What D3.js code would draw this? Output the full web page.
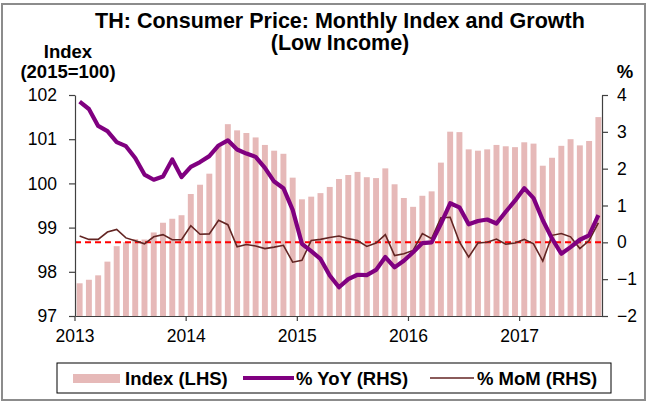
<!DOCTYPE html>
<html>
<head>
<meta charset="utf-8">
<script src="https://cdn.jsdelivr.net/npm/d3@7"></script>
<style>
  body { margin: 0; background: #fff; }
  svg { font-family: "Liberation Sans", Arial, sans-serif; }
</style>
</head>
<body>
<svg id="chart" width="647" height="402"></svg>
<script>
// monthly data, Jan 2013 - Sep 2017
let years = [2013, 2014, 2015, 2016, 2017]
let monthsPerYear = [12, 12, 12, 12, 9]

let indexLHS = [
  97.74, 97.82, 97.92, 98.23, 98.58, 98.67, 98.74, 98.73, 98.89, 99.11, 99.20, 99.28,
  99.76, 99.97, 100.22, 100.84, 101.34, 101.20, 101.14, 101.04, 100.87, 100.74, 100.67, 100.13,
  99.64, 99.70, 99.78, 99.92, 100.10, 100.19, 100.26, 100.14, 100.12, 100.34, 99.98, 99.67,
  99.47, 99.72, 99.82, 100.47, 101.17, 101.16, 100.77, 100.74, 100.77, 100.87, 100.84, 100.82,
  100.93, 100.90, 100.40, 100.58, 100.85, 101.00, 100.86, 100.96, 101.50
]
let yoyRHS = [
  3.82, 3.62, 3.16, 3.02, 2.72, 2.61, 2.29, 1.84, 1.70, 1.79, 2.25, 1.77,
  2.05, 2.18, 2.34, 2.63, 2.77, 2.52, 2.41, 2.32, 2.02, 1.65, 1.47, 0.88,
  -0.04, -0.24, -0.45, -0.90, -1.22, -1.00, -0.88, -0.89, -0.75, -0.40, -0.68, -0.50,
  -0.27, -0.02, 0.00, 0.50, 1.06, 0.95, 0.49, 0.58, 0.62, 0.51, 0.83, 1.13,
  1.47, 1.20, 0.60, 0.10, -0.31, -0.13, 0.07, 0.19, 0.74
]
let momRHS = [
  0.17, 0.08, 0.08, 0.28, 0.35, 0.12, 0.04, -0.04, 0.15, 0.21, 0.07, 0.07,
  0.45, 0.22, 0.23, 0.60, 0.48, -0.12, -0.06, -0.10, -0.17, -0.13, -0.08, -0.54,
  -0.49, 0.05, 0.08, 0.13, 0.17, 0.10, 0.05, -0.11, -0.02, 0.21, -0.36, -0.31,
  -0.22, 0.24, 0.10, 0.67, 0.68, 0.01, -0.40, -0.02, 0.00, 0.09, -0.05, -0.02,
  0.08, -0.04, -0.51, 0.19, 0.24, 0.15, -0.17, 0.05, 0.53
]
let leftTicks = [97, 98, 99, 100, 101, 102]
let rightTicks = [-2, -1, 0, 1, 2, 3, 4]
let legendLabels = ['Index (LHS)', '% YoY (RHS)', '% MoM (RHS)']

// build month keys
let months = []
years.forEach((yr, i) => {
  for (let m = 0; m < monthsPerYear[i]; m++) months.push(yr + '-' + m)
})

let svg = d3.select('#chart')
let plotLeft = 75, plotRight = 603, plotTop = 95, plotBottom = 316

let x = d3.scaleBand().domain(months).range([plotLeft, plotRight]).paddingInner(0.36).paddingOuter(0.18)
let xStep = d3.scaleBand().domain(months).range([plotLeft, plotRight])
let yL = d3.scaleLinear().domain([97, 102]).range([plotBottom, plotTop])
let yR = d3.scaleLinear().domain([-2, 4]).range([plotBottom, plotTop])

// outer frame
svg.append('rect')
  .attr('x', 2).attr('y', 4).attr('width', 643).attr('height', 396)
  .attr('fill', 'none').attr('stroke', '#8c8c8c').attr('stroke-width', 2)

// title
svg.append('text').attr('x', 340).attr('y', 28).attr('text-anchor', 'middle')
  .attr('font-size', 21.5).attr('font-weight', 'bold').attr('fill', '#000')
  .text('TH: Consumer Price: Monthly Index and Growth')
svg.append('text').attr('x', 340).attr('y', 50).attr('text-anchor', 'middle')
  .attr('font-size', 21.5).attr('font-weight', 'bold').attr('fill', '#000')
  .text('(Low Income)')

svg.append('text').attr('x', 68).attr('y', 58).attr('text-anchor', 'middle')
  .attr('font-size', 18.5).attr('font-weight', 'bold').text('Index')
svg.append('text').attr('x', 68).attr('y', 78).attr('text-anchor', 'middle')
  .attr('font-size', 18.5).attr('font-weight', 'bold').text('(2015=100)')
svg.append('text').attr('x', 625).attr('y', 78).attr('text-anchor', 'middle')
  .attr('font-size', 18.5).attr('font-weight', 'bold').text('%')

// bars
svg.append('g').selectAll('rect')
  .data(indexLHS)
  .enter()
  .append('rect')
  .attr('x', (d, i) => x(months[i]))
  .attr('width', x.bandwidth())
  .attr('y', d => yL(d))
  .attr('height', d => yL(97) - yL(d))
  .attr('fill', '#e6b9b8')

// zero line
svg.append('line')
  .attr('x1', plotLeft).attr('x2', plotRight)
  .attr('y1', yR(0)).attr('y2', yR(0))
  .attr('stroke', '#ff0000').attr('stroke-width', 2)
  .attr('stroke-dasharray', '6,4')

let cx = i => xStep(months[i]) + xStep.bandwidth() / 2

let momLine = d3.line().x((d, i) => cx(i)).y(d => yR(d))
svg.append('path').datum(momRHS)
  .attr('d', momLine)
  .attr('fill', 'none').attr('stroke', '#632523').attr('stroke-width', 1.6)

let yoyLine = d3.line().x((d, i) => cx(i)).y(d => yR(d))
svg.append('path').datum(yoyRHS)
  .attr('d', yoyLine)
  .attr('fill', 'none').attr('stroke', '#800080').attr('stroke-width', 4.2)
  .attr('stroke-linejoin', 'round')

// axes
let axisColor = '#404040'
let gL = svg.append('g').attr('transform', `translate(${plotLeft},0)`)
  .call(d3.axisLeft(yL).tickValues(leftTicks).tickFormat(d3.format('d'))
    .tickSize(6).tickPadding(12).tickSizeOuter(0))
let gR = svg.append('g').attr('transform', `translate(${plotRight - 1},0)`)
  .call(d3.axisRight(yR).tickValues(rightTicks).tickFormat(d3.format('d'))
    .tickSize(6).tickPadding(9).tickSizeOuter(0))

let yearStarts = years.map(yr => yr + '-0')
let gX = svg.append('g').attr('transform', `translate(0,${plotBottom})`)
  .call(d3.axisBottom(xStep).tickValues(yearStarts).tickSize(5)
    .tickFormat(d => d.split('-')[0]).tickSizeOuter(0))
gX.selectAll('.tick').attr('transform', d => `translate(${xStep(d)},0)`)

;[gL, gR, gX].forEach(g => {
  g.selectAll('path').attr('stroke', axisColor).attr('stroke-width', 1.2)
  g.selectAll('line').attr('stroke', axisColor).attr('stroke-width', 1.2)
  g.selectAll('text').attr('font-size', 17.5).attr('fill', '#000')
    .attr('font-family', '"Liberation Sans", Arial, sans-serif')
})
gX.selectAll('text').attr('y', 26).attr('dy', 0)

// legend
let lg = svg.append('g')
lg.append('rect').attr('x', 57).attr('y', 363).attr('width', 554).attr('height', 30)
  .attr('fill', '#fff').attr('stroke', '#000').attr('stroke-width', 1)
lg.append('rect').attr('x', 73).attr('y', 374).attr('width', 47).attr('height', 9).attr('fill', '#e6b9b8')
lg.append('line').attr('x1', 243).attr('x2', 294).attr('y1', 378).attr('y2', 378)
  .attr('stroke', '#800080').attr('stroke-width', 4)
lg.append('line').attr('x1', 430).attr('x2', 474).attr('y1', 378).attr('y2', 378)
  .attr('stroke', '#632523').attr('stroke-width', 1.6)
let legendX = [125, 296, 477]
legendLabels.forEach((t, i) => {
  lg.append('text').attr('x', legendX[i]).attr('y', 385)
    .attr('font-size', 18.5).attr('font-weight', 'bold').text(t)
})
</script>
</body>
</html>
